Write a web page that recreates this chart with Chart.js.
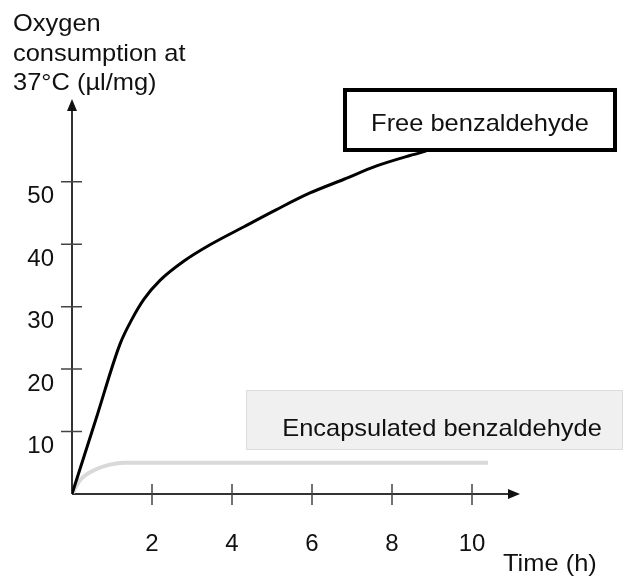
<!DOCTYPE html>
<html>
<head>
<meta charset="utf-8">
<script src="https://cdn.jsdelivr.net/npm/chart.js@4"></script>
<style>
    body { margin: 0; background: #fff; }
</style>
</head>
<body>
<canvas id="chart" width="625" height="576"></canvas>
<script>
// values: time (h) vs oxygen consumption (µl/mg)
const freeTime = [0, 0.6, 1.2, 1.5, 1.8, 2.2, 2.8, 3.45, 4.3, 5.1, 5.95, 6.8, 7.6, 8.45, 8.85];
const freeO2 = [0, 12, 24, 28, 31.2, 34.2, 37.3, 39.9, 42.8, 45.5, 48.2, 50.4, 52.5, 54.2, 54.9];
const encTime = [0, 0.2, 0.55, 0.95, 1.3, 10.4];
const encO2 = [0, 2.2, 3.8, 4.7, 5.0, 5.0];

const xTicks = [2, 4, 6, 8, 10];
const yTicks = [10, 20, 30, 40, 50];
const xMax = 11.2;
const yMax = 63.25;

const seriesNames = ['Free benzaldehyde', 'Encapsulated benzaldehyde'];
const yTitle = ['Oxygen', 'consumption at', '37°C (µl/mg)'];
const xTitle = 'Time (h)';

const FONT = '"Liberation Sans", Arial, sans-serif';
Chart.defaults.font.family = FONT;
Chart.defaults.color = '#111';

function toPoints(xs, ys) {
    return xs.map((x, i) => ({ x: x, y: ys[i] }));
}

// the original lettering is a bit wider than Arial
function wideText(ctx, text, x, y) {
    ctx.save();
    ctx.translate(x, y);
    ctx.scale(1.06, 1);
    ctx.fillText(text, 0, 0);
    ctx.restore();
}

// hand drawn looking axes: arrows, ticks crossing the axis line
const sketchAxes = {
    id: 'sketchAxes',
    beforeDatasetsDraw(chart) {
        const ctx = chart.ctx;
        const xs = chart.scales.x;
        const ys = chart.scales.y;
        const x0 = xs.getPixelForValue(0);
        const y0 = ys.getPixelForValue(0);
        const xEnd = xs.getPixelForValue(xMax);
        const yEnd = ys.getPixelForValue(yMax);

        ctx.save();
        ctx.strokeStyle = '#333';
        ctx.fillStyle = '#111';
        ctx.lineWidth = 2;
        ctx.beginPath();
        ctx.moveTo(x0, y0);
        ctx.lineTo(xEnd - 8, y0);
        ctx.moveTo(x0, y0);
        ctx.lineTo(x0, yEnd + 8);
        ctx.stroke();

        // arrow heads
        ctx.beginPath();
        ctx.moveTo(xEnd, y0);
        ctx.lineTo(xEnd - 12, y0 - 5);
        ctx.lineTo(xEnd - 12, y0 + 5);
        ctx.closePath();
        ctx.fill();
        ctx.beginPath();
        ctx.moveTo(x0, yEnd);
        ctx.lineTo(x0 - 5, yEnd + 12);
        ctx.lineTo(x0 + 5, yEnd + 12);
        ctx.closePath();
        ctx.fill();

        // tick marks
        ctx.strokeStyle = '#444';
        ctx.lineWidth = 1.5;
        ctx.beginPath();
        xTicks.forEach(v => {
            const px = xs.getPixelForValue(v);
            ctx.moveTo(px, y0 - 10);
            ctx.lineTo(px, y0 + 11);
        });
        yTicks.forEach(v => {
            const py = ys.getPixelForValue(v);
            ctx.moveTo(x0 - 11, py);
            ctx.lineTo(x0 + 10, py);
        });
        ctx.stroke();
        ctx.restore();
    },
    afterDraw(chart) {
        const ctx = chart.ctx;
        ctx.save();
        ctx.font = '24px ' + FONT;
        ctx.fillStyle = '#111';
        ctx.textAlign = 'left';
        ctx.textBaseline = 'alphabetic';

        // y axis title, top left
        yTitle.forEach((line, i) => wideText(ctx, line, 13, 31 + i * 29.5));

        // x axis title
        wideText(ctx, xTitle, 503, 571);

        // label box for free benzaldehyde
        ctx.fillStyle = '#fff';
        ctx.fillRect(345, 90, 270, 60);
        ctx.strokeStyle = '#000';
        ctx.lineWidth = 4;
        ctx.strokeRect(345, 90, 270, 60);
        ctx.fillStyle = '#111';
        ctx.textAlign = 'center';
        ctx.textBaseline = 'middle';
        wideText(ctx, seriesNames[0], 480, 124);

        // label box for encapsulated benzaldehyde
        ctx.fillStyle = '#f0f0f0';
        ctx.fillRect(246.5, 390.5, 376, 59);
        ctx.strokeStyle = '#dcdcdc';
        ctx.lineWidth = 1;
        ctx.strokeRect(246.5, 390.5, 376, 59);
        ctx.fillStyle = '#111';
        wideText(ctx, seriesNames[1], 442, 429);
        ctx.restore();
    }
};

new Chart(document.getElementById('chart'), {
    type: 'line',
    data: {
        datasets: [
            {
                label: seriesNames[0],
                data: toPoints(freeTime, freeO2),
                borderColor: '#000',
                borderWidth: 3,
                pointRadius: 0,
                cubicInterpolationMode: 'monotone',
                fill: false
            },
            {
                label: seriesNames[1],
                data: toPoints(encTime, encO2),
                borderColor: '#d9d9d9',
                borderWidth: 4,
                pointRadius: 0,
                cubicInterpolationMode: 'monotone',
                fill: false
            }
        ]
    },
    options: {
        responsive: false,
        animation: false,
        layout: { padding: { top: 99, right: 105, left: 0, bottom: 0 } },
        plugins: {
            legend: { display: false },
            tooltip: { enabled: false },
            title: { display: false }
        },
        scales: {
            x: {
                type: 'linear',
                min: 0,
                max: xMax,
                grid: { display: false, drawTicks: false },
                border: { display: false },
                ticks: {
                    stepSize: 2,
                    includeBounds: false,
                    autoSkip: false,
                    maxRotation: 0,
                    padding: 36,
                    font: { size: 24 },
                    callback: v => xTicks.includes(v) ? v : ''
                },
                afterFit(scale) {
                    scale.height = 82;
                    scale.paddingLeft = 0;
                    scale.paddingRight = 0;
                }
            },
            y: {
                min: 0,
                max: yMax,
                grid: { display: false, drawTicks: false },
                border: { display: false },
                ticks: {
                    stepSize: 10,
                    includeBounds: false,
                    autoSkip: false,
                    padding: 18,
                    labelOffset: 15,
                    font: { size: 24 },
                    callback: v => yTicks.includes(v) ? v : ''
                },
                afterFit(scale) {
                    scale.width = 72;
                    scale.paddingTop = 0;
                    scale.paddingBottom = 0;
                }
            }
        }
    },
    plugins: [sketchAxes]
});
</script>
</body>
</html>
